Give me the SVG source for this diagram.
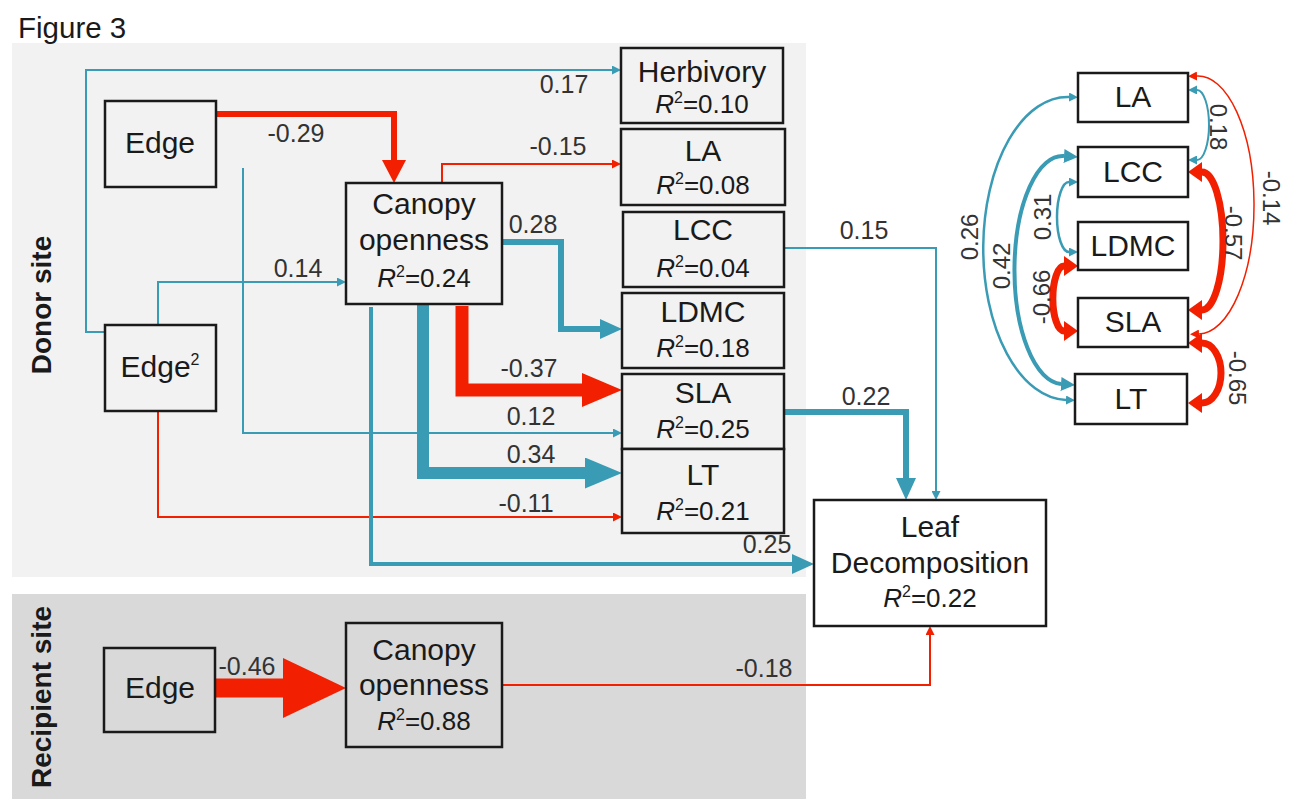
<svg xmlns="http://www.w3.org/2000/svg" width="1310" height="799" viewBox="0 0 1310 799">
<style>
text{font-family:"Liberation Sans",Arial,sans-serif;fill:#1a1a1a}
.nm{font-size:30px;text-anchor:middle}
.r2{font-size:26px;text-anchor:middle}
.r2 .i{font-style:italic}
.sup{font-size:16px}
.lb{font-size:25px;text-anchor:middle;fill:#333}
.cl{font-size:24px;text-anchor:middle;fill:#333}
.site{font-size:28px;font-weight:bold;text-anchor:middle}
.box{stroke:#1a1a1a;stroke-width:2.5}
.t{stroke:#3a9bb4;fill:none}
.r{stroke:#f22000;fill:none}
</style>
<defs>
<marker id="ts" markerUnits="userSpaceOnUse" viewBox="0 0 9 9" markerWidth="9" markerHeight="9" refX="0" refY="4.5" orient="auto-start-reverse"><path d="M0,0L9,4.5L0,9z" fill="#3a9bb4"/></marker>
<marker id="rs" markerUnits="userSpaceOnUse" viewBox="0 0 9 9" markerWidth="9" markerHeight="9" refX="0" refY="4.5" orient="auto-start-reverse"><path d="M0,0L9,4.5L0,9z" fill="#f22000"/></marker>
<marker id="tm" markerUnits="userSpaceOnUse" viewBox="0 0 22 20" markerWidth="22" markerHeight="20" refX="0" refY="10" orient="auto-start-reverse"><path d="M0,0L22,10L0,20z" fill="#3a9bb4"/></marker>
<marker id="tm2" markerUnits="userSpaceOnUse" viewBox="0 0 14 14" markerWidth="14" markerHeight="14" refX="0" refY="7" orient="auto-start-reverse"><path d="M0,0L14,7L0,14z" fill="#3a9bb4"/></marker>
<marker id="rm" markerUnits="userSpaceOnUse" viewBox="0 0 23 24" markerWidth="23" markerHeight="24" refX="0" refY="12" orient="auto-start-reverse"><path d="M0,0L23,12L0,24z" fill="#f22000"/></marker>
<marker id="rc" markerUnits="userSpaceOnUse" viewBox="0 0 14 20" markerWidth="14" markerHeight="20" refX="0" refY="10" orient="auto-start-reverse"><path d="M0,0L14,10L0,20z" fill="#f22000"/></marker>
<marker id="tl" markerUnits="userSpaceOnUse" viewBox="0 0 37 31" markerWidth="37" markerHeight="31" refX="0" refY="15.5" orient="auto"><path d="M0,0L37,15.5L0,31z" fill="#3a9bb4"/></marker>
<marker id="rl" markerUnits="userSpaceOnUse" viewBox="0 0 40 34" markerWidth="40" markerHeight="34" refX="0" refY="17" orient="auto"><path d="M0,0L40,17L0,34z" fill="#f22000"/></marker>
<marker id="rx" markerUnits="userSpaceOnUse" viewBox="0 0 63 60" markerWidth="63" markerHeight="60" refX="0" refY="30" orient="auto"><path d="M0,0L63,30L0,60z" fill="#f22000"/></marker>
</defs>

<rect id="donor-panel" x="12" y="43" width="794" height="534" fill="#f2f2f2"/>
<rect id="recipient-panel" x="12" y="594" width="794" height="205" fill="#d9d9d9"/>
<text x="18" y="38" font-size="29.5">Figure 3</text>
<text class="site" transform="translate(51,305) rotate(-90)">Donor site</text>
<text class="site" transform="translate(51,697) rotate(-90)">Recipient site</text>

<g id="connectors">
<path class="t" stroke-width="2" d="M105,332H86V70H612" marker-end="url(#ts)"/>
<path class="r" stroke-width="6" d="M216,114H394V160" marker-end="url(#rm)"/>
<path class="t" stroke-width="2" d="M243,168V433H613" marker-end="url(#ts)"/>
<path class="t" stroke-width="2" d="M158,325V282H337" marker-end="url(#ts)"/>
<path class="r" stroke-width="2" d="M158,411V517H613" marker-end="url(#rs)"/>
<path class="t" stroke-width="4" d="M371,307V564H792" marker-end="url(#tm)"/>
<path class="r" stroke-width="2" d="M442,183V164H612" marker-end="url(#rs)"/>
<path class="t" stroke-width="6" d="M502,242H561V329H600" marker-end="url(#tm)"/>
<path class="r" stroke-width="13" d="M462,306V390H582" marker-end="url(#rl)"/>
<path class="t" stroke-width="12" d="M423,304V473H585" marker-end="url(#tl)"/>
<path class="t" stroke-width="2" d="M784,248H936V491" marker-end="url(#ts)"/>
<path class="t" stroke-width="6" d="M784,412H906V478" marker-end="url(#tm)"/>
<path class="r" stroke-width="19" d="M215,688H283" marker-end="url(#rx)"/>
<path class="r" stroke-width="2" d="M503,685H930V635" marker-end="url(#rs)"/>
<path class="t" stroke-width="2.5" d="M1069,97A84 151 0 0 0 1066,400" marker-start="url(#ts)" marker-end="url(#ts)"/>
<path class="t" stroke-width="4" d="M1064,156A48 114 0 0 0 1061,384" marker-start="url(#tm2)" marker-end="url(#tm2)"/>
<path class="t" stroke-width="2.5" d="M1069,182A12 35 0 0 0 1069,252" marker-start="url(#ts)" marker-end="url(#ts)"/>
<path class="r" stroke-width="7" d="M1064,266A11 32 0 0 0 1064,331" marker-start="url(#rc)" marker-end="url(#rc)"/>
<path class="t" stroke-width="2" d="M1197,90A12 35 0 0 1 1197,160" marker-start="url(#ts)" marker-end="url(#ts)"/>
<path class="r" stroke-width="1.5" d="M1197,76A56 129 0 0 1 1199,334" marker-start="url(#rs)" marker-end="url(#rs)"/>
<path class="r" stroke-width="7" d="M1202,172A21 69 0 0 1 1202,310" marker-start="url(#rc)" marker-end="url(#rc)"/>
<path class="r" stroke-width="7" d="M1202,343A19 30 0 0 1 1202,403" marker-start="url(#rc)" marker-end="url(#rc)"/>
</g>

<g id="labels">
<text class="lb" x="564" y="93">0.17</text>
<text class="lb" x="296" y="142">-0.29</text>
<text class="lb" x="298" y="277">0.14</text>
<text class="lb" x="531" y="425">0.12</text>
<text class="lb" x="526" y="512">-0.11</text>
<text class="lb" x="767" y="553">0.25</text>
<text class="lb" x="558" y="155">-0.15</text>
<text class="lb" x="533" y="233">0.28</text>
<text class="lb" x="529" y="377">-0.37</text>
<text class="lb" x="531" y="463">0.34</text>
<text class="lb" x="864" y="239">0.15</text>
<text class="lb" x="866" y="405">0.22</text>
<text class="lb" x="247" y="675">-0.46</text>
<text class="lb" x="764" y="677">-0.18</text>
<text class="cl" transform="translate(970,237) rotate(-90)" y="8">0.26</text>
<text class="cl" transform="translate(1002,266) rotate(-90)" y="8">0.42</text>
<text class="cl" transform="translate(1043,217) rotate(-90)" y="8">0.31</text>
<text class="cl" transform="translate(1042,297) rotate(-90)" y="8">-0.66</text>
<text class="cl" transform="translate(1218,127) rotate(90)" y="8">0.18</text>
<text class="cl" transform="translate(1271,198) rotate(90)" y="8">-0.14</text>
<text class="cl" transform="translate(1233,233) rotate(90)" y="8">-0.57</text>
<text class="cl" transform="translate(1237,378) rotate(90)" y="8">-0.65</text>
</g>

<g id="edge-donor"><rect class="box" x="105" y="101" width="111" height="86" fill="#f2f2f2"/><text class="nm" x="160" y="153">Edge</text></g>
<g id="edge2-donor"><rect class="box" x="105" y="325" width="111" height="86" fill="#f2f2f2"/><text class="nm" x="160" y="377">Edge<tspan class="sup" dy="-12">2</tspan></text></g>
<g id="canopy-donor"><rect class="box" x="346" y="183" width="156" height="121" fill="#f2f2f2"/><text class="nm" x="424" y="214">Canopy</text><text class="nm" x="424" y="250">openness</text><text class="r2" x="424" y="287"><tspan class="i">R</tspan><tspan class="sup" dy="-10">2</tspan><tspan dy="10">=0.24</tspan></text></g>
<g id="herbivory"><rect class="box" x="621" y="48" width="162" height="75" fill="#f2f2f2"/><text class="nm" x="702" y="82">Herbivory</text><text class="r2" x="702" y="113"><tspan class="i">R</tspan><tspan class="sup" dy="-10">2</tspan><tspan dy="10">=0.10</tspan></text></g>
<g id="la"><rect class="box" x="621" y="129" width="164" height="76" fill="#f2f2f2"/><text class="nm" x="703" y="161">LA</text><text class="r2" x="703" y="194"><tspan class="i">R</tspan><tspan class="sup" dy="-10">2</tspan><tspan dy="10">=0.08</tspan></text></g>
<g id="lcc"><rect class="box" x="623" y="212" width="161" height="75" fill="#f2f2f2"/><text class="nm" x="703" y="240">LCC</text><text class="r2" x="703" y="277"><tspan class="i">R</tspan><tspan class="sup" dy="-10">2</tspan><tspan dy="10">=0.04</tspan></text></g>
<g id="ldmc"><rect class="box" x="622" y="293" width="162" height="75" fill="#f2f2f2"/><text class="nm" x="703" y="322">LDMC</text><text class="r2" x="703" y="357"><tspan class="i">R</tspan><tspan class="sup" dy="-10">2</tspan><tspan dy="10">=0.18</tspan></text></g>
<g id="sla"><rect class="box" x="622" y="374" width="162" height="75" fill="#f2f2f2"/><text class="nm" x="703" y="403">SLA</text><text class="r2" x="703" y="438"><tspan class="i">R</tspan><tspan class="sup" dy="-10">2</tspan><tspan dy="10">=0.25</tspan></text></g>
<g id="lt"><rect class="box" x="622" y="449" width="162" height="84" fill="#f2f2f2"/><text class="nm" x="703" y="485">LT</text><text class="r2" x="703" y="520"><tspan class="i">R</tspan><tspan class="sup" dy="-10">2</tspan><tspan dy="10">=0.21</tspan></text></g>
<g id="leaf-decomposition"><rect class="box" x="814" y="500" width="232" height="126" fill="#fff"/><text class="nm" x="930" y="537">Leaf</text><text class="nm" x="930" y="573">Decomposition</text><text class="r2" x="930" y="607"><tspan class="i">R</tspan><tspan class="sup" dy="-10">2</tspan><tspan dy="10">=0.22</tspan></text></g>
<g id="edge-recipient"><rect class="box" x="104" y="648" width="111" height="84" fill="#d9d9d9"/><text class="nm" x="160" y="698">Edge</text></g>
<g id="canopy-recipient"><rect class="box" x="346" y="623" width="156" height="124" fill="#d9d9d9"/><text class="nm" x="424" y="660">Canopy</text><text class="nm" x="424" y="695">openness</text><text class="r2" x="424" y="730"><tspan class="i">R</tspan><tspan class="sup" dy="-10">2</tspan><tspan dy="10">=0.88</tspan></text></g>
<g id="c-la"><rect class="box" x="1078" y="73" width="110" height="49" fill="#fff"/><text class="nm" x="1133" y="107">LA</text></g>
<g id="c-lcc"><rect class="box" x="1078" y="147" width="110" height="50" fill="#fff"/><text class="nm" x="1133" y="182">LCC</text></g>
<g id="c-ldmc"><rect class="box" x="1078" y="222" width="110" height="48" fill="#fff"/><text class="nm" x="1133" y="256">LDMC</text></g>
<g id="c-sla"><rect class="box" x="1078" y="298" width="110" height="49" fill="#fff"/><text class="nm" x="1133" y="332">SLA</text></g>
<g id="c-lt"><rect class="box" x="1075" y="374" width="112" height="50" fill="#fff"/><text class="nm" x="1131" y="409">LT</text></g>
</svg>
